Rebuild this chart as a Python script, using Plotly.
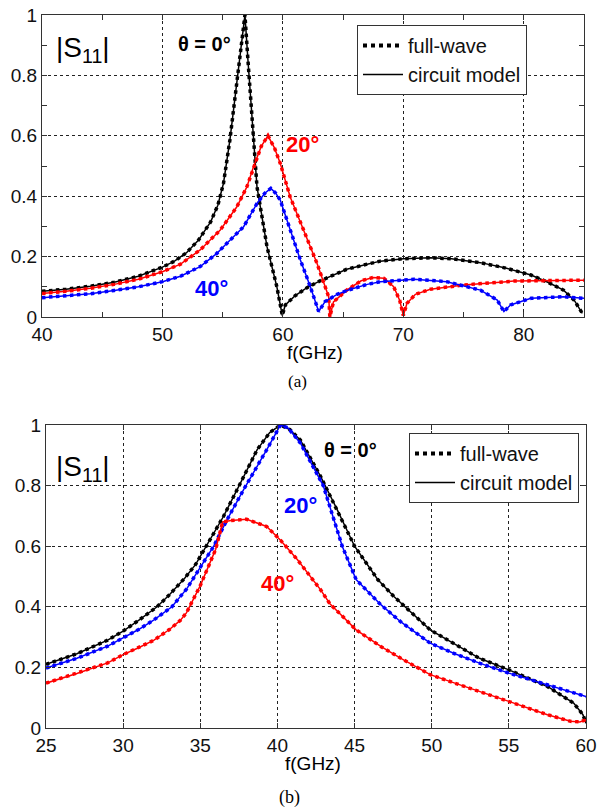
import plotly.graph_objects as go

# ---------------- (a) data ----------------
a_f_0 = [40, 42, 44, 46, 48, 50, 51, 52, 53, 54, 54.6, 55.07, 55.6, 55.95, 56.24, 56.55, 56.85,
         57.1, 57.43, 57.85, 58.68, 59.5, 59.95, 60.2, 61, 62, 63, 64, 65.3, 67, 68.1, 70, 72.25,
         74, 76.4, 78.5, 80.6, 82, 83.3, 84.2, 84.86]
a_s_0 = [0.085, 0.092, 0.102, 0.115, 0.135, 0.165, 0.185, 0.213, 0.255, 0.315, 0.37, 0.443, 0.586, 0.7, 0.8, 0.9, 1.0,
         0.85, 0.652, 0.431, 0.233, 0.1, 0.005, 0.04, 0.07, 0.097, 0.118, 0.135, 0.158, 0.175, 0.185, 0.193, 0.196,
         0.193, 0.18, 0.162, 0.139, 0.115, 0.089, 0.055, 0.012]

a_f_20 = [40, 42, 44, 46, 48, 50, 51.5, 53.13, 54.8, 56.18, 57.0, 57.57, 58.2, 58.76, 59.3, 59.78,
          60.6, 61.72, 62.83, 63.8, 63.9, 64.2, 65.3, 66.5, 67.5, 68.4, 69.2, 69.7, 70.0, 70.3, 71,
          72.25, 75, 79.2, 85]
a_s_20 = [0.078, 0.085, 0.095, 0.108, 0.125, 0.15, 0.175, 0.222, 0.288, 0.365, 0.43, 0.498, 0.565, 0.6, 0.56, 0.509,
          0.398, 0.288, 0.178, 0.067, 0.0, 0.05, 0.089, 0.12, 0.131, 0.128, 0.1, 0.055, 0.005, 0.045, 0.075,
          0.092, 0.106, 0.119, 0.122]

a_f_40 = [40, 42, 44, 46, 48, 50, 51.5, 53.13, 54.5, 55.35, 56.74, 57.85, 58.5, 59.0, 59.4, 59.78,
          60.6, 61.45, 62.28, 62.97, 63.5, 64.5, 65.5, 67, 68.1, 70.9, 73.6, 76.4, 77.8, 78.35, 78.9,
          80.6, 83.3, 85]
a_s_40 = [0.064, 0.07, 0.077, 0.088, 0.1, 0.117, 0.135, 0.167, 0.21, 0.244, 0.299, 0.376, 0.41, 0.426, 0.41, 0.387,
          0.288, 0.189, 0.1, 0.018, 0.051, 0.075, 0.09, 0.108, 0.117, 0.125, 0.117, 0.089, 0.056, 0.018, 0.04,
          0.062, 0.067, 0.062]

# ---------------- (b) data ----------------
b_f_0 = [25, 27, 29, 30, 31, 32.2, 33, 34, 34.7, 35.4, 36.5, 37.6, 38.68, 39.5, 40.2, 40.8, 41.49,
         42.8, 43.88, 45.0, 46.5, 47.55, 49.9, 53.1, 55, 57.5, 59.2, 59.8, 60]
b_s_0 = [0.21, 0.245, 0.29, 0.32, 0.355, 0.4, 0.44, 0.495, 0.54, 0.6, 0.698, 0.808, 0.918, 0.975, 1.0, 0.985, 0.95,
         0.83, 0.72, 0.6, 0.49, 0.434, 0.324, 0.23, 0.192, 0.137, 0.082, 0.044, 0.016]

b_f_20 = [25, 27, 29, 30, 31, 32, 33.16, 34.13, 35.0, 35.87, 36.73, 37.8, 39.3, 40.2, 40.7, 41.49, 42.97,
          43.88, 44.2, 45.1, 46.7, 48, 49.9, 51.5, 53.1, 55, 57.5, 60]
b_s_20 = [0.198, 0.23, 0.27, 0.297, 0.325, 0.357, 0.4, 0.46, 0.53, 0.6, 0.687, 0.786, 0.918, 1.0, 0.99, 0.94, 0.8,
          0.65, 0.6, 0.49, 0.407, 0.35, 0.28, 0.245, 0.214, 0.181, 0.143, 0.104]

b_f_40 = [25, 27, 29, 30, 31, 32, 33, 33.7, 34.1, 34.4, 35.0, 35.5, 36.0, 36.45, 37.0, 38.0, 39.3, 40.2,
          41.3, 42.8, 43.4, 45.1, 46.7, 48, 49.9, 51.5, 53.1, 55, 57.5, 59, 59.6, 60]
b_s_40 = [0.148, 0.18, 0.215, 0.242, 0.265, 0.29, 0.325, 0.355, 0.38, 0.41, 0.47, 0.53, 0.59, 0.68, 0.685, 0.689, 0.665, 0.62,
          0.555, 0.456, 0.41, 0.324, 0.269, 0.23, 0.176, 0.148, 0.121, 0.088, 0.044, 0.022, 0.02, 0.027]

BLACK, RED, BLUE = "#000000", "#ff0000", "#0000ff"
FONT = "Liberation Sans, Arial, sans-serif"

fig = go.Figure()

def add_pair(f, s, color, xa, ya):
    fig.add_trace(go.Scatter(x=f, y=s, mode="lines", xaxis=xa, yaxis=ya, showlegend=False,
                             line=dict(color=color, width=3.5, dash="dot"), hoverinfo="skip"))
    fig.add_trace(go.Scatter(x=f, y=s, mode="lines", xaxis=xa, yaxis=ya, showlegend=False,
                             line=dict(color=color, width=1.5), hoverinfo="skip"))

add_pair(a_f_0, a_s_0, BLACK, "x", "y")
add_pair(a_f_20, a_s_20, RED, "x", "y")
add_pair(a_f_40, a_s_40, BLUE, "x", "y")
add_pair(b_f_0, b_s_0, BLACK, "x2", "y2")
add_pair(b_f_20, b_s_20, BLUE, "x2", "y2")
add_pair(b_f_40, b_s_40, RED, "x2", "y2")

# legend entries
for lg, xa, ya in (("legend", "x", "y"), ("legend2", "x2", "y2")):
    fig.add_trace(go.Scatter(x=[None], y=[None], mode="lines", name="full-wave", legend=lg,
                             xaxis=xa, yaxis=ya, line=dict(color=BLACK, width=4, dash="dot")))
    fig.add_trace(go.Scatter(x=[None], y=[None], mode="lines", name="circuit model", legend=lg,
                             xaxis=xa, yaxis=ya, line=dict(color=BLACK, width=1.5)))

W, H = 597, 812
def px(x):
    return x / W
def py(y):
    return 1 - y / H

axis_common = dict(showline=True, linecolor="#333333", linewidth=1, mirror="ticks",
                   ticks="inside", ticklen=5, tickcolor="#333333", automargin=False,
                   showgrid=True, gridcolor="#222222", gridwidth=1, griddash="3px,3px",
                   zeroline=False, tickfont=dict(family=FONT, size=19, color="#111111"))

legend_common = dict(xanchor="left", yanchor="top", bgcolor="white",
                     bordercolor="#333333", borderwidth=1,
                     font=dict(family=FONT, size=20, color="#111111"),
                     tracegroupgap=0, itemwidth=40)

fig.update_layout(
    width=W, height=H, margin=dict(l=0, r=0, t=0, b=0),
    paper_bgcolor="white", plot_bgcolor="white",
    xaxis=dict(domain=[px(42), px(584)], anchor="y", range=[40, 85], dtick=10, tick0=40,
               minor=dict(dtick=5, ticks="inside", ticklen=5, tickcolor="#333333", showgrid=False),
               **axis_common),
    yaxis=dict(domain=[py(317), py(15)], anchor="x", range=[0, 1], dtick=0.2,
               minor=dict(dtick=0.1, ticks="inside", ticklen=5, tickcolor="#333333", showgrid=False),
               **axis_common),
    xaxis2=dict(domain=[px(46), px(586)], anchor="y2", range=[25, 60], dtick=5, tick0=25, **axis_common),
    yaxis2=dict(domain=[py(728), py(425)], anchor="x2", range=[0, 1], dtick=0.2, **axis_common),
    legend=dict(x=px(357), y=py(25), **legend_common),
    legend2=dict(x=px(409), y=py(433), **legend_common),
)

ann = []
def txt(text, x, y, xref, yref, size, color=BLACK, bold=False, family=FONT):
    ann.append(dict(text=("<b>%s</b>" % text) if bold else text, x=x, y=y, xref=xref, yref=yref,
                    showarrow=False, xanchor="center", yanchor="middle",
                    font=dict(family=family, size=size, color=color)))

# panel (a) labels
txt("|S<sub>11</sub>|", 43.4, 0.885, "x", "y", 28)
txt("\u03b8 = 0\u00b0", 53.47, 0.904, "x", "y", 20, bold=True)
txt("20\u00b0", 61.6, 0.57, "x", "y", 22, RED, bold=True)
txt("40\u00b0", 54.05, 0.096, "x", "y", 22, BLUE, bold=True)
# panel (b) labels
txt("|S<sub>11</sub>|", 27.4, 0.855, "x2", "y2", 28)
txt("\u03b8 = 0\u00b0", 44.74, 0.918, "x2", "y2", 20, bold=True)
txt("20\u00b0", 41.5, 0.733, "x2", "y2", 22, BLUE, bold=True)
txt("40\u00b0", 40.0, 0.476, "x2", "y2", 22, RED, bold=True)
# axis titles and captions
txt("f(GHz)", px(315), py(352), "paper", "paper", 19)
txt("f(GHz)", px(313), py(763), "paper", "paper", 19)
txt("(a)", px(297), py(381), "paper", "paper", 17, family="Liberation Serif, Times New Roman, serif")
txt("(b)", px(289), py(797), "paper", "paper", 18, family="Liberation Serif, Times New Roman, serif")
fig.update_layout(annotations=ann)

fig.write_html("out.html")
